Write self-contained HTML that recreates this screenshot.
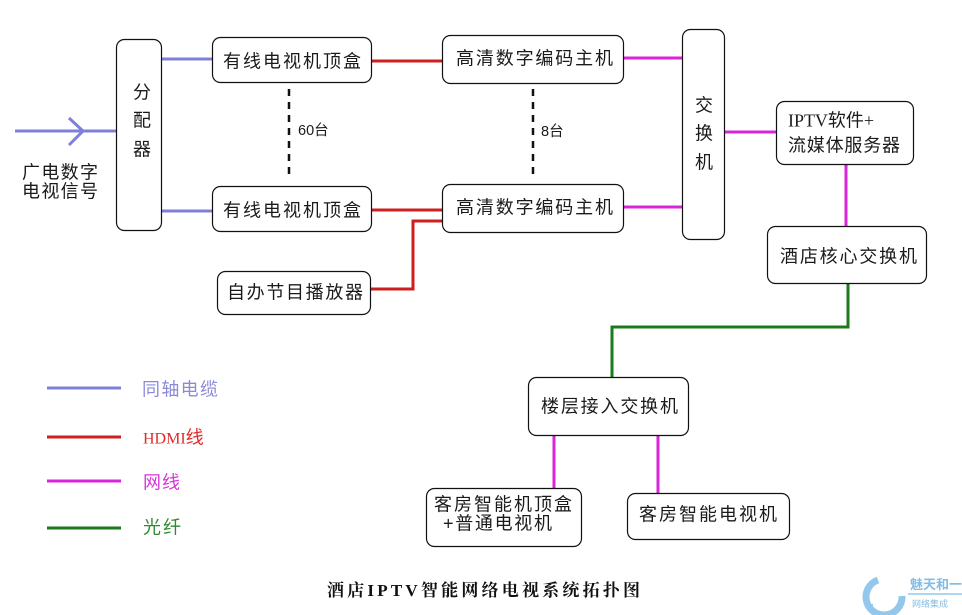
<!DOCTYPE html>
<html><head><meta charset="utf-8"><style>
html,body{margin:0;padding:0;background:#fff;}
svg{display:block;}
text{font-family:"Liberation Sans","Noto Sans CJK SC",sans-serif;font-size:18px;fill:#1a1a1a;}
.s{font-family:"Liberation Serif","Noto Sans CJK SC",serif;}
.t{font-family:"Liberation Serif","Noto Serif CJK SC",serif;font-weight:bold;font-size:17px;fill:#111;}
</style></head><body>
<svg width="962" height="615" viewBox="0 0 962 615" xmlns="http://www.w3.org/2000/svg">
<rect width="962" height="615" fill="#fff"/>
<g fill="none" stroke-width="3">
  <g stroke="#7f7fdc">
    <line x1="15" y1="131" x2="116" y2="131"/>
    <polyline points="69,118 83,131 69,145"/>
    <line x1="162" y1="59" x2="212" y2="59"/>
    <line x1="162" y1="211" x2="212" y2="211"/>
    <line x1="47" y1="388" x2="121" y2="388"/>
  </g>
  <g stroke="#cc1f1f">
    <line x1="372" y1="61" x2="442" y2="61"/>
    <line x1="372" y1="210" x2="442" y2="210"/>
    <polyline points="371,289 413,289 413,221 442,221"/>
    <line x1="47" y1="437" x2="121" y2="437"/>
  </g>
  <g stroke="#d926d9">
    <line x1="624" y1="58" x2="682" y2="58"/>
    <line x1="624" y1="207" x2="682" y2="207"/>
    <line x1="725" y1="132" x2="776" y2="132"/>
    <line x1="846" y1="165" x2="846" y2="226"/>
    <line x1="554" y1="436" x2="554" y2="488"/>
    <line x1="658" y1="436" x2="658" y2="493"/>
    <line x1="47" y1="481" x2="121" y2="481"/>
  </g>
  <g stroke="#1b7a1b">
    <polyline points="848,284 848,327 612,327 612,377"/>
    <line x1="47" y1="528" x2="121" y2="528"/>
  </g>
  <g stroke="#111" stroke-width="2.5" stroke-dasharray="7,6">
    <line x1="289" y1="89" x2="289" y2="179"/>
    <line x1="533" y1="89" x2="533" y2="179"/>
  </g>
</g>
<g fill="#fff" stroke="#111" stroke-width="1.2">
  <rect x="116.5" y="39.5" width="45" height="191" rx="8"/>
  <rect x="212.5" y="37.5" width="159" height="45" rx="8"/>
  <rect x="212.5" y="186.5" width="159" height="45" rx="8"/>
  <rect x="217.5" y="271.5" width="153" height="43" rx="8"/>
  <rect x="442.5" y="35.5" width="181" height="48" rx="8"/>
  <rect x="442.5" y="184.5" width="181" height="48" rx="8"/>
  <rect x="682.5" y="29.5" width="42" height="210" rx="8"/>
  <rect x="776.5" y="101.5" width="137" height="63" rx="8"/>
  <rect x="767.5" y="226.5" width="159" height="57" rx="8"/>
  <rect x="528.5" y="377.5" width="160" height="58" rx="8"/>
  <rect x="426.5" y="488.5" width="155" height="58" rx="8"/>
  <rect x="627.5" y="493.5" width="162" height="46" rx="8"/>
</g>
<text x="22" y="178.5" textLength="76" lengthAdjust="spacing">广电数字</text>
<text x="22" y="197.5" textLength="76" lengthAdjust="spacing">电视信号</text>
<text x="142" y="98.5" text-anchor="middle">分</text>
<text x="142" y="126.5" text-anchor="middle">配</text>
<text x="142" y="155.5" text-anchor="middle">器</text>
<text x="223" y="67.5" textLength="138" lengthAdjust="spacing">有线电视机顶盒</text>
<text x="223" y="216.5" textLength="138" lengthAdjust="spacing">有线电视机顶盒</text>
<text x="227" y="298.5" textLength="136" lengthAdjust="spacing">自办节目播放器</text>
<text x="298" y="135" style="font-size:14.5px">60台</text>
<text x="541" y="136" style="font-size:14.5px">8台</text>
<text x="456" y="64.5" textLength="157" lengthAdjust="spacing">高清数字编码主机</text>
<text x="456" y="213.5" textLength="157" lengthAdjust="spacing">高清数字编码主机</text>
<text x="704" y="111.5" text-anchor="middle">交</text>
<text x="704" y="139.5" text-anchor="middle">换</text>
<text x="704" y="168.5" text-anchor="middle">机</text>
<text class="s" x="788" y="126.5" textLength="86" lengthAdjust="spacing">IPTV软件+</text>
<text x="788" y="151.5" textLength="112" lengthAdjust="spacing">流媒体服务器</text>
<text x="780" y="262.5" textLength="137" lengthAdjust="spacing">酒店核心交换机</text>
<text x="541" y="412.5" textLength="137" lengthAdjust="spacing">楼层接入交换机</text>
<text x="434" y="510.5" textLength="138" lengthAdjust="spacing">客房智能机顶盒</text>
<text x="443" y="529.5" textLength="109" lengthAdjust="spacing">+普通电视机</text>
<text x="639" y="520.5" textLength="138" lengthAdjust="spacing">客房智能电视机</text>
<text x="142" y="395.5" textLength="76" lengthAdjust="spacing" style="fill:#8a8ad8">同轴电缆</text>
<text x="143" y="443.5" style="fill:#e02a2a"><tspan class="s" style="font-size:16px">HDMI</tspan><tspan>线</tspan></text>
<text x="143" y="488.5" textLength="37" lengthAdjust="spacing" style="fill:#d933d9">网线</text>
<text x="143" y="533.5" textLength="38" lengthAdjust="spacing" style="fill:#2e8a2e">光纤</text>
<text class="t" x="327" y="596" textLength="313" lengthAdjust="spacing">酒店IPTV智能网络电视系统拓扑图</text>
<g opacity="0.75">
  <path d="M878,580 A18,18 0 1,0 902,596" fill="none" stroke="#6fb6e6" stroke-width="7"/>
  <rect x="868" y="604" width="5" height="5" fill="#6fb6e6"/>
  <text x="910" y="589" style="font-size:13px;fill:#5aa6dc;font-weight:bold" textLength="52" lengthAdjust="spacing">魅天和一</text>
  <line x1="908" y1="594" x2="962" y2="594" stroke="#6fb6e6" stroke-width="1.5"/>
  <text x="912" y="607" style="font-size:9px;fill:#5aa6dc" textLength="36" lengthAdjust="spacing">网络集成</text>
</g>
</svg>
</body></html>
